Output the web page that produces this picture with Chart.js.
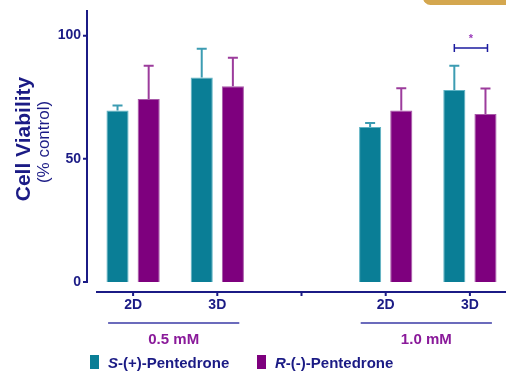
<!DOCTYPE html>
<html>
<head>
<meta charset="utf-8">
<script src="https://cdn.jsdelivr.net/npm/chart.js@4"></script>
<style>
  html, body { margin: 0; padding: 0; background: #fff; overflow: hidden; }
  #wrap { position: relative; width: 520px; height: 371px; }
  #tab {
    position: absolute; left: 423px; top: -10px; width: 110px; height: 15px;
    background: #d4a74f; border-radius: 8px;
  }
</style>
</head>
<body>
<div id="wrap">
  <canvas id="viability-chart" width="520" height="371"></canvas>
  <div id="tab"></div>
</div>
<script>
const labels = ["2D", "3D", "", "2D", "3D"];
const sValues = [69.6, 83.0, null, 62.9, 77.9];
const sErrors = [2.0, 11.7, null, 1.6, 9.9];
const rValues = [74.3, 79.5, null, 69.6, 68.2];
const rErrors = [13.5, 11.5, null, 9.0, 10.3];
const groups = [
  { label: "0.5 mM", from: 0, to: 1 },
  { label: "1.0 mM", from: 3, to: 4 },
];
const yTicks = [0, 50, 100];

const NAVY = "#1b1b85";
const TEAL = "#0a7e96";
const PURPLE = "#7e007e";
const FONT = "'Liberation Sans', Arial, sans-serif";

// error bars on top of every bar
const errorBars = {
  id: "errorBars",
  afterDatasetsDraw(chart) {
    const { ctx } = chart;
    const y = chart.scales.y;
    const sets = [
      { errs: sErrors, vals: sValues, color: "#3c9cb2" },
      { errs: rErrors, vals: rValues, color: "#9c3c9c" },
    ];
    ctx.save();
    ctx.lineWidth = 2;
    sets.forEach((s, di) => {
      const meta = chart.getDatasetMeta(di);
      meta.data.forEach((bar, i) => {
        if (s.vals[i] == null) return;
        const top = y.getPixelForValue(s.vals[i] + s.errs[i]);
        const base = y.getPixelForValue(s.vals[i]);
        ctx.strokeStyle = s.color;
        ctx.beginPath();
        ctx.moveTo(bar.x, base);
        ctx.lineTo(bar.x, top);
        ctx.moveTo(bar.x - 5, top);
        ctx.lineTo(bar.x + 5, top);
        ctx.stroke();
      });
    });
    ctx.restore();
  },
};

// offset axes, group brackets, significance mark, titles, legend
const decorations = {
  id: "decorations",
  afterDraw(chart) {
    const { ctx, chartArea } = chart;
    const x = chart.scales.x;
    const y = chart.scales.y;
    ctx.save();

    // y axis
    const ax = chartArea.left - 4;
    ctx.strokeStyle = NAVY;
    ctx.lineWidth = 2;
    ctx.beginPath();
    ctx.moveTo(ax, chartArea.top - 1);
    ctx.lineTo(ax, chartArea.bottom + 1);
    yTicks.forEach((t) => {
      const py = y.getPixelForValue(t);
      ctx.moveTo(ax - 4, py);
      ctx.lineTo(ax, py);
    });
    ctx.stroke();

    // x axis
    const bx = chartArea.bottom + 10;
    ctx.beginPath();
    ctx.moveTo(chartArea.left + 5, bx);
    ctx.lineTo(chart.width, bx);
    labels.forEach((l, i) => {
      const px = x.getPixelForValue(i);
      ctx.moveTo(px, bx);
      ctx.lineTo(px, bx + 4);
    });
    ctx.stroke();

    // concentration groups
    ctx.font = "bold 15px " + FONT;
    ctx.textAlign = "center";
    ctx.textBaseline = "middle";
    groups.forEach((g) => {
      const x0 = x.getPixelForValue(g.from) - 25;
      const x1 = x.getPixelForValue(g.to) + 22;
      ctx.strokeStyle = "#3a3aa6";
      ctx.lineWidth = 1.5;
      ctx.beginPath();
      ctx.moveTo(x0, 323);
      ctx.lineTo(x1, 323);
      ctx.stroke();
      ctx.fillStyle = "#8a1a9a";
      ctx.fillText(g.label, (x0 + x1) / 2, 340);
    });

    // significance bracket between the 1.0 mM 3D bars
    const b0 = chart.getDatasetMeta(0).data[4].x;
    const b1 = chart.getDatasetMeta(1).data[4].x + 2;
    const by = y.getPixelForValue(95);
    ctx.strokeStyle = "#1c1ca0";
    ctx.lineWidth = 1.5;
    ctx.beginPath();
    ctx.moveTo(b0, by);
    ctx.lineTo(b1, by);
    ctx.moveTo(b0, by - 4);
    ctx.lineTo(b0, by + 4);
    ctx.moveTo(b1, by - 4);
    ctx.lineTo(b1, by + 4);
    ctx.stroke();
    ctx.fillStyle = "#9a3aba";
    ctx.font = "bold 11px " + FONT;
    ctx.fillText("*", (b0 + b1) / 2, y.getPixelForValue(98.5));

    // axis title
    ctx.fillStyle = NAVY;
    ctx.textBaseline = "alphabetic";
    ctx.translate(30, 139);
    ctx.rotate(-Math.PI / 2);
    ctx.font = "bold 21px " + FONT;
    ctx.fillText("Cell Viability", 0, 0);
    ctx.font = "17px " + FONT;
    ctx.fillText("(% control)", -3, 18.5);
    ctx.setTransform(1, 0, 0, 1, 0, 0);

    // legend
    const items = [
      { lead: "S", rest: "-(+)-Pentedrone", color: TEAL, x: 90 },
      { lead: "R", rest: "-(-)-Pentedrone", color: PURPLE, x: 257 },
    ];
    ctx.textAlign = "left";
    items.forEach((it) => {
      ctx.fillStyle = it.color;
      ctx.fillRect(it.x, 355, 9, 14);
      ctx.fillStyle = NAVY;
      ctx.font = "italic bold 15px " + FONT;
      ctx.fillText(it.lead, it.x + 18, 368);
      const w = ctx.measureText(it.lead).width;
      ctx.font = "bold 15px " + FONT;
      ctx.fillText(it.rest, it.x + 18 + w, 368);
    });

    ctx.restore();
  },
};

new Chart(document.querySelector("#viability-chart"), {
  type: "bar",
  data: {
    labels: labels,
    datasets: [
      {
        label: "S-(+)-Pentedrone",
        data: sValues,
        backgroundColor: TEAL,
        borderColor: "#5fb3c4",
        borderWidth: 1,
      },
      {
        label: "R-(-)-Pentedrone",
        data: rValues,
        backgroundColor: PURPLE,
        borderColor: "#a85aa8",
        borderWidth: 1,
      },
    ],
  },
  options: {
    responsive: false,
    animation: false,
    layout: { padding: { top: 11, right: 8 } },
    datasets: {
      bar: { categoryPercentage: 0.74, barPercentage: 0.71 },
    },
    plugins: {
      legend: { display: false },
      tooltip: { enabled: false },
    },
    scales: {
      x: {
        grid: { display: false, drawTicks: false },
        border: { display: false },
        ticks: {
          color: NAVY,
          font: { family: FONT, size: 14, weight: "bold" },
          padding: 15,
          maxRotation: 0,
        },
        afterFit(scale) {
          scale.height = 89;
        },
      },
      y: {
        min: 0,
        max: 110,
        // tick marks are drawn by hand; the length only spaces the labels
        grid: { display: false, drawTicks: true, tickLength: 10 },
        border: { display: false },
        afterBuildTicks(scale) {
          scale.ticks = yTicks.map((v) => ({ value: v }));
        },
        ticks: {
          color: NAVY,
          font: { family: FONT, size: 14, weight: "bold" },
          padding: 0,
        },
        afterFit(scale) {
          scale.width = 91;
        },
      },
    },
  },
  plugins: [errorBars, decorations],
});
</script>
</body>
</html>
